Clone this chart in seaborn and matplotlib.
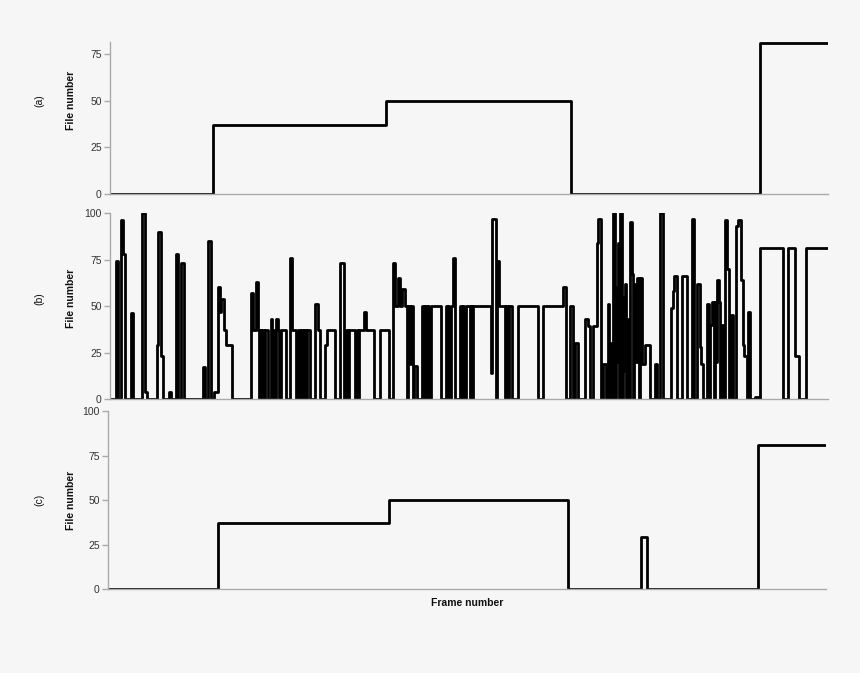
import matplotlib
matplotlib.use('Agg')
import matplotlib.pyplot as plt
import seaborn as sns
import pandas as pd

# данные: кадр, с которого начинается шаг, и номер файла
a_frames = [0, 103, 276, 461, 650, 718]
a_values = [0, 37, 50, 0, 81, 81]

b_frames = [0, 6, 8, 11, 13, 15, 21, 23, 32, 35, 37, 47, 48, 51, 53, 59, 61, 66, 68, 71, 74,
            93, 95, 98, 101, 104, 108, 110, 111, 114, 116, 122,
            141, 143, 146, 148, 149, 150, 151, 152, 154, 155, 158, 161, 162, 163, 164, 166, 168, 169,
            171, 176, 180, 182, 186, 188, 190, 191, 193, 194, 196, 197, 200, 205, 208, 210, 215, 217,
            225, 230, 234, 236, 238, 239, 245, 247, 248, 249, 254, 256, 264, 270, 279, 283, 285,
            288, 290, 292, 295, 297, 298, 300, 301, 303, 304, 307, 312, 314, 315, 317, 318, 319, 321,
            331, 336, 337, 338, 339, 341, 343, 345, 350, 352, 353, 354, 356, 360, 361, 362, 363,
            381, 382, 386, 387, 389, 395, 396, 398, 399, 402, 408, 428, 433, 453, 456, 460, 463, 465, 468,
            475, 478, 480, 483, 487, 488, 491, 493, 496, 498, 499, 501, 502, 503, 505, 506, 507, 508, 509,
            510, 512, 513, 514, 515, 516, 517, 518, 520, 522, 523, 524, 526, 527, 529, 530, 532, 535, 540,
            545, 547, 550, 553, 561, 563, 564, 567, 572, 577, 582, 584, 587, 590, 591, 593, 597, 599, 600,
            602, 604, 605, 606, 607, 609, 610, 612, 613, 615, 617, 619, 621, 623, 626, 628, 631, 633, 634,
            637, 638, 640, 645, 648, 650, 673, 678, 685, 689, 696, 718]
b_values = [0, 74, 0, 96, 78, 0, 46, 0, 100, 4, 0, 29, 90, 23, 0, 4, 0, 78, 0, 73, 0,
            17, 0, 85, 0, 4, 60, 47, 54, 37, 29, 0,
            57, 37, 63, 37, 0, 37, 0, 37, 0, 37, 0, 43, 0, 37, 0, 43, 37, 0,
            37, 0, 76, 37, 0, 37, 0, 37, 0, 37, 0, 37, 0, 51, 37, 0, 29, 37,
            0, 73, 0, 37, 0, 37, 0, 37, 0, 37, 47, 37, 0, 37, 0, 73, 50,
            65, 50, 59, 50, 0, 50, 19, 50, 0, 18, 0, 50, 0, 50, 0, 50, 0, 50,
            0, 50, 0, 50, 0, 50, 76, 0, 50, 0, 50, 0, 50, 0, 50, 0, 50,
            14, 97, 0, 74, 50, 0, 50, 0, 50, 0, 50, 0, 50, 60, 0, 50, 0, 30, 0,
            43, 39, 0, 39, 84, 97, 0, 19, 0, 51, 0, 30, 0, 100, 0, 60, 20, 84, 0,
            100, 0, 55, 15, 62, 0, 43, 0, 95, 67, 0, 62, 20, 65, 0, 65, 19, 29, 0,
            19, 0, 100, 0, 49, 58, 66, 0, 66, 0, 97, 0, 62, 28, 19, 0, 51, 0, 40,
            52, 0, 52, 20, 64, 52, 0, 40, 0, 96, 70, 0, 45, 0, 93, 96, 64, 29, 23,
            0, 47, 0, 1, 0, 81, 0, 81, 23, 0, 81, 81]

c_frames = [0, 110, 281, 460, 533, 539, 650, 718]
c_values = [0, 37, 50, 0, 29, 0, 81, 81]

panel_names = ['(a)', '(b)', '(c)']
a_ticks = [0, 25, 50, 75]
bc_ticks = [0, 25, 50, 75, 100]

bg = '#f6f6f6'
sns.set_theme(style='ticks')
plt.rcParams['font.family'] = ['Liberation Sans', 'DejaVu Sans']

fig = plt.figure(figsize=(8.6, 6.73), dpi=100, facecolor=bg)

# [left, bottom, width, height] для каждой панели
boxes = [[0.128, 0.7117, 0.835, 0.2259],
         [0.128, 0.4071, 0.835, 0.2764],
         [0.1256, 0.1248, 0.835, 0.2645]]
series = [(a_frames, a_values, (0, 81.5), a_ticks),
          (b_frames, b_values, (0, 100), bc_ticks),
          (c_frames, c_values, (0, 100), bc_ticks)]
label_y = [0.851, 0.557, 0.257]

for box, (fr, vals, ylim, ticks), name, ly in zip(boxes, series, panel_names, label_y):
    ax = fig.add_axes(box)
    ax.set_facecolor(bg)
    df = pd.DataFrame({'frame': fr, 'file': vals})
    sns.lineplot(data=df, x='frame', y='file', ax=ax, color='black', linewidth=2.0,
                 drawstyle='steps-post', estimator=None, sort=False)
    ax.set_xlim(0, 718)
    ax.set_ylim(*ylim)
    ax.set_yticks(ticks)
    ax.set_xticks([])
    ax.set_xlabel('')
    ax.set_ylabel('')
    for s in ['top', 'right']:
        ax.spines[s].set_visible(False)
    for s in ['left', 'bottom']:
        ax.spines[s].set_color('#aaaaaa')
        ax.spines[s].set_linewidth(1.0)
    ax.tick_params(axis='y', colors='#aaaaaa', labelcolor='#333333', labelsize=7.5,
                   length=4, width=1, pad=2)
    fig.text(0.083, ly, 'File number', rotation=90, ha='center', va='center',
             fontsize=7.5, fontweight='bold', color='#111111')
    fig.text(0.046, ly, name, rotation=90, ha='center', va='center',
             fontsize=7.5, color='#111111')

fig.text(0.543, 0.104, 'Frame number', ha='center', va='center',
         fontsize=7.5, fontweight='bold', color='#111111')

fig.savefig('out.png', dpi=100, facecolor=bg)
